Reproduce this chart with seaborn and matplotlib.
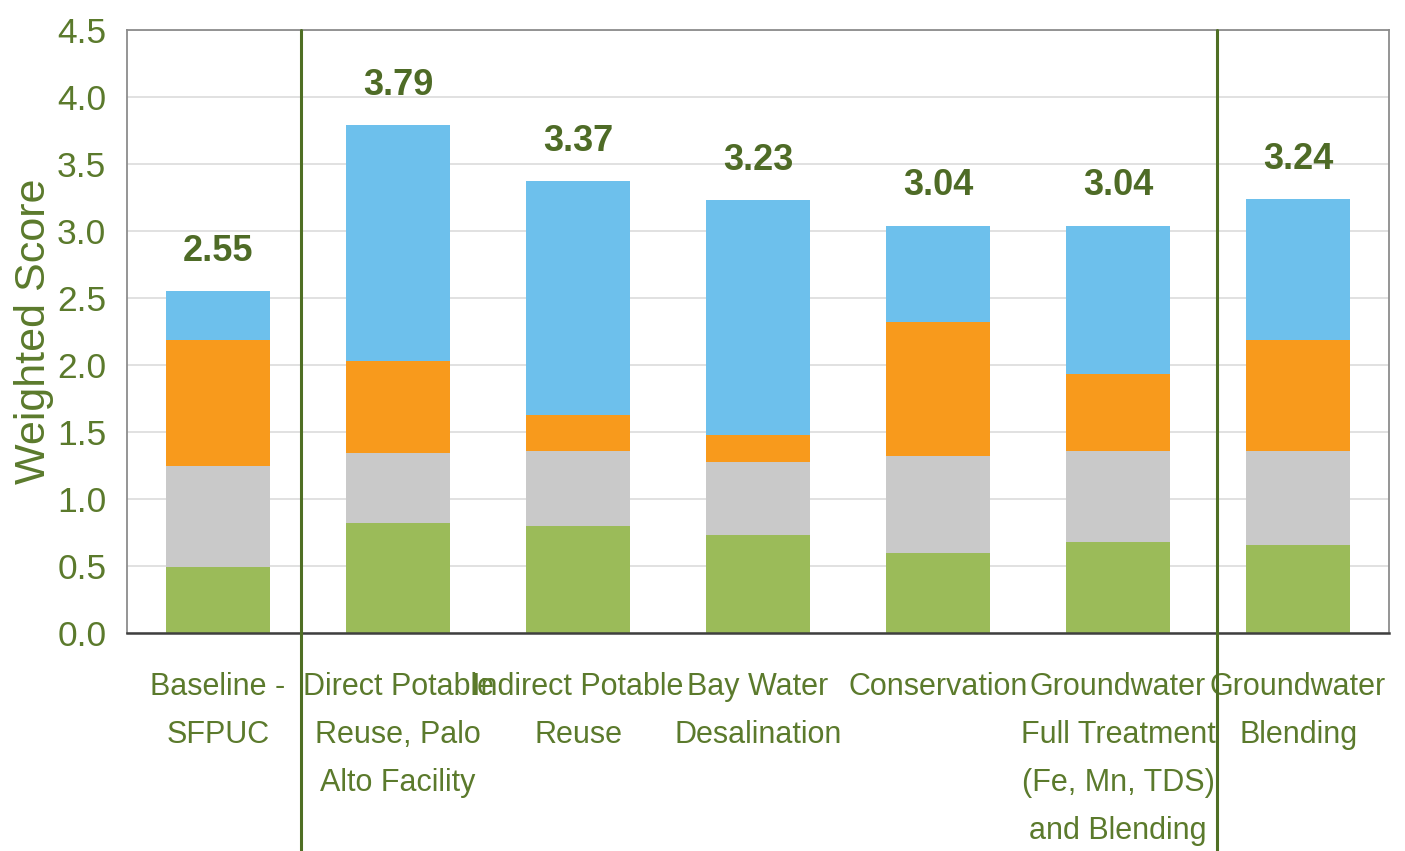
import numpy as np
import pandas as pd
import matplotlib.pyplot as plt
import matplotlib.transforms as mtransforms
import seaborn as sns

# --- chart data ---
categories = [
    "Baseline -\nSFPUC",
    "Direct Potable\nReuse, Palo\nAlto Facility",
    "Indirect Potable\nReuse",
    "Bay Water\nDesalination",
    "Conservation",
    "Groundwater\nFull Treatment\n(Fe, Mn, TDS)\nand Blending",
    "Groundwater\nBlending",
]
seg_green = [0.49, 0.82, 0.80, 0.73, 0.60, 0.68, 0.66]
seg_gray = [0.76, 0.52, 0.56, 0.55, 0.72, 0.68, 0.70]
seg_orange = [0.94, 0.69, 0.27, 0.20, 1.00, 0.57, 0.83]
totals = [2.55, 3.79, 3.37, 3.23, 3.04, 3.04, 3.24]
separators = [0.46, 5.55]

GREEN_TXT = "#5B7A2C"
LABEL_TXT = "#4E6B26"
colors = {"blue": "#6DC0EC", "orange": "#F89A1C", "gray": "#C9C9C9", "green": "#9BBB59"}

sns.set_style("white")
plt.rcParams['font.family'] = ['Liberation Sans', 'DejaVu Sans']

# cumulative tops, drawn from the top layer down so each covers the one beneath
df = pd.DataFrame({"cat": categories, "green": seg_green, "gray": seg_gray,
                   "orange": seg_orange, "total": totals})
df["cum_green"] = df["green"]
df["cum_gray"] = df["cum_green"] + df["gray"]
df["cum_orange"] = df["cum_gray"] + df["orange"]

fig, ax = plt.subplots(figsize=(14.05, 8.51), dpi=100)
fig.subplots_adjust(left=0.0905, right=0.9886, top=0.965, bottom=0.256)

for col, key in [("total", "blue"), ("cum_orange", "orange"),
                 ("cum_gray", "gray"), ("cum_green", "green")]:
    sns.barplot(data=df, x="cat", y=col, color=colors[key], saturation=1,
                width=0.575, ax=ax, zorder=2, edgecolor="none")

ax.set_ylim(0, 4.5)
ax.set_xlim(-0.505, 6.505)
ax.set_yticks(np.arange(0, 4.51, 0.5))
ax.set_yticklabels([f"{v:.1f}" for v in np.arange(0, 4.51, 0.5)])
ax.yaxis.grid(True, color="#DEDEDE", linewidth=1.3, zorder=0)
ax.set_axisbelow(True)

ax.tick_params(axis="y", labelsize=25.5, colors=GREEN_TXT, length=0, pad=15)
ax.tick_params(axis="x", labelsize=22, colors=GREEN_TXT, length=0, pad=28)
for lab in ax.get_xticklabels():
    lab.set_linespacing(1.78)
ax.set_xlabel("")
ax.set_ylabel("Weighted Score", fontsize=31, color=GREEN_TXT, labelpad=2)

for side in ["top", "right", "left"]:
    ax.spines[side].set_color("#8C8C8C")
    ax.spines[side].set_linewidth(1.3)
ax.spines["bottom"].set_color("#3F3F3F")
ax.spines["bottom"].set_linewidth(1.8)

# total labels above each bar
for i, t in enumerate(totals):
    ax.annotate(f"{t:.2f}", (i, t), xytext=(0, 16), textcoords="offset points",
                ha="center", va="bottom", fontsize=26, fontweight="bold",
                color=LABEL_TXT)

# group separator lines running past the axis down to the figure bottom
trans = mtransforms.blended_transform_factory(ax.transData, ax.transAxes)
for xs in separators:
    ax.plot([xs, xs], [1.0, -0.43], transform=trans, color="#4F6F24",
            linewidth=2.2, clip_on=False, zorder=5)

fig.savefig("out.png", dpi=100)
